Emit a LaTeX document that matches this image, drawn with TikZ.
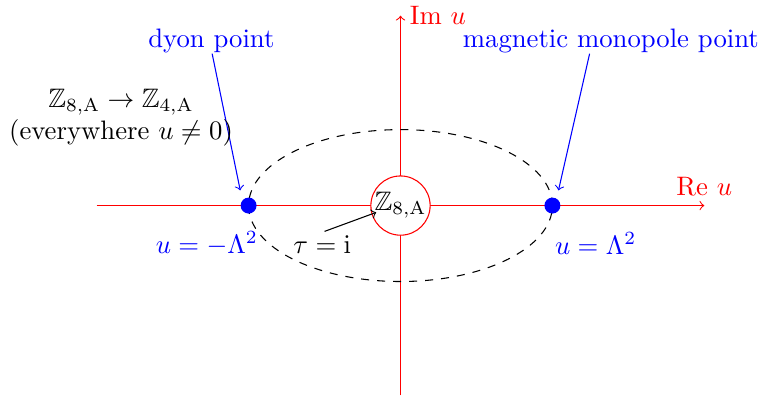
\documentclass[tikz,border=0pt]{standalone}
\usepackage{amssymb}
\begin{document}
\begin{tikzpicture}
\useasboundingbox (-5.2734,-2.5494) rectangle (4.7466,2.7066);
\tikzset{
  redaxis/.style={draw=red,line width=0.4pt,->},
  pointer/.style={blue,->},
  dotpt/.style={circle,fill=blue,inner sep=0pt,minimum size=0.21cm},
  bluelabel/.style={blue}
}
\coordinate (xl) at (-4,0);
\coordinate (xr) at (4,0);
\coordinate (yb) at (0,-2.5);
\coordinate (yt) at (0,2.5);
\draw[redaxis] (xl) -- (xr);
\node[red,above] (re) at (xr) {Re $u$};
\draw[redaxis] (yb) -- (yt);
\node[red,right] (im) at (yt) {Im $u$};
\draw[dashed] (0,0) ellipse (2cm and 1cm);
\node[circle,draw=red,fill=white,inner sep=0pt,minimum size=0.78cm] (z8) at (0,0) {$\mathbb{Z}_{8,\mathrm{A}}$};
\node[dotpt] (dm) at (-2,0) {};
\node[dotpt] (dp) at (2,0) {};
\node[bluelabel] (lm) at (-2.55,-0.5) {$u=-\Lambda^2$};
\node[bluelabel] (lp) at (2.57,-0.5) {$u=\Lambda^2$};
\node[bluelabel] (dyon) at (-2.49,2.17) {dyon point};
\node[bluelabel] (mono) at (2.77,2.17) {magnetic monopole point};
\coordinate (ds) at (-2.48,2.0);
\coordinate (de) at (-2.11,0.2);
\coordinate (ms) at (2.49,2.0);
\coordinate (me) at (2.08,0.2);
\draw[pointer] (ds) -- (de);
\draw[pointer] (ms) -- (me);
\node[align=center] (br) at (-3.68,1.16) {$\mathbb{Z}_{8,\mathrm{A}}\to\mathbb{Z}_{4,\mathrm{A}}$\\(everywhere $u\neq0$)};
\node (tau) at (-1.03,-0.52) {$\tau=\mathrm{i}$};
\coordinate (ts) at (-1.0,-0.34);
\coordinate (ta) at (-0.32,-0.09);
\draw[->] (ts) -- (ta);
\end{tikzpicture}
\end{document}
